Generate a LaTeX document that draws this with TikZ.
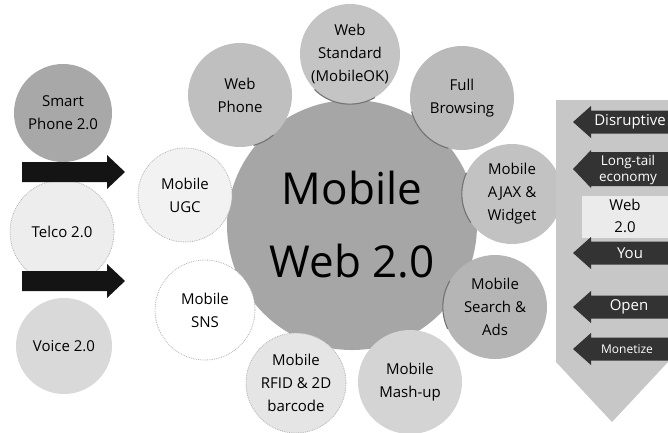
\documentclass[tikz,border=0pt]{standalone}
\usepackage{fontspec}
\setmainfont{Open Sans}
\begin{document}
\begin{tikzpicture}[x=1pt,y=-1pt,
  bubble/.style={circle, inner sep=0pt, minimum size=#1, align=center,
    font=\fontsize{15}{23}\selectfont},
  core/.style={circle, inner sep=0pt, minimum size=250pt, align=center,
    fill=black!35, font=\fontsize{44}{73}\selectfont},
  faint/.style={draw=black!30, densely dotted, line width=0.8pt},
  rim/.style={draw=black!55, line width=1.1pt},
  fatdark/.style={fill=black!92},
  tagdark/.style={fill=black!80},
  taglabel/.style={text=white, inner sep=0pt, font=\fontsize{15}{17}\selectfont},
  smalltag/.style={text=white, inner sep=0pt, font=\fontsize{13.5}{15}\selectfont},
  plainlabel/.style={inner sep=0pt, font=\fontsize{15}{22}\selectfont, align=center}]
\useasboundingbox (0,0) rectangle (668,432);
\fill[white] (0,0) rectangle (668,432);

% left column
\node[bubble=98pt, fill=black!34] (smart) at (63,113) {Smart\\Phone 2.0};
\node[bubble=104pt, fill=black!7, faint] (telco) at (62,232) {Telco 2.0};
\node[bubble=96pt, fill=black!15] (voice) at (64,346) {Voice 2.0};
\fill[fatdark] (22,162) -- (107,162) -- (107,155) -- (125,172) -- (107,189)
  -- (107,182) -- (22,182) -- cycle;
\fill[fatdark] (22,271) -- (107,271) -- (107,264) -- (125,281) -- (107,298)
  -- (107,291) -- (22,291) -- cycle;

% central hub
\node[core] (hub) at (352,225) {Mobile\\Web 2.0};

% ring of topics
\node[bubble=104pt, fill=black!25] (phone) at (240,95) {Web\\Phone};
\node[bubble=100pt, fill=black!23] (std) at (350,54) {Web\\Standard\\(MobileOK)};
\node[bubble=104pt, fill=black!27] (full) at (462,98) {Full\\Browsing};
\node[bubble=100pt, fill=black!24] (ajax) at (512,194) {Mobile\\AJAX \&\\Widget};
\node[bubble=104pt, fill=black!29] (search) at (495,307) {Mobile\\Search \&\\Ads};
\node[bubble=104pt, fill=black!17] (mash) at (410,382) {Mobile\\Mash-up};
\node[bubble=100pt, fill=black!10, faint] (rfid) at (296,383) {Mobile\\RFID \& 2D\\barcode};
\node[bubble=100pt, fill=white, faint] (sns) at (205,310) {Mobile\\SNS};
\node[bubble=94pt, fill=black!5, faint] (ugc) at (185,195) {Mobile\\UGC};

% darker rims where the bubbles overlap the hub
\draw[rim] (std.225) arc[start angle=225, end angle=300, radius=50pt];
\draw[rim] (full.195) arc[start angle=195, end angle=255, radius=52pt];
\draw[rim] (ajax.155) arc[start angle=155, end angle=215, radius=50pt];
\draw[rim] (search.150) arc[start angle=150, end angle=205, radius=52pt];
\draw[rim] (phone.285) arc[start angle=285, end angle=310, radius=52pt];

% right column: backdrop and tags
\fill[black!22] (556,100) -- (668,100) -- (668,362) -- (612,422) -- (556,362) -- cycle;
\fill[black!8] (582,196) rectangle (668,238);
\fill[tagdark] (670,110.5) -- (591,110.5) -- (591,106) -- (573,122) -- (591,138)
  -- (591,133.5) -- (670,133.5) -- cycle;
\fill[tagdark] (670,152) -- (591,152) -- (591,150) -- (573,169) -- (591,188)
  -- (591,186) -- (670,186) -- cycle;
\fill[tagdark] (670,241.5) -- (591,241.5) -- (591,237) -- (573,253) -- (591,269)
  -- (591,264.5) -- (670,264.5) -- cycle;
\fill[tagdark] (670,295.5) -- (591,295.5) -- (591,291) -- (573,307) -- (591,323)
  -- (591,318.5) -- (670,318.5) -- cycle;
\fill[tagdark] (670,337.5) -- (591,337.5) -- (591,333) -- (573,349) -- (591,365)
  -- (591,360.5) -- (670,360.5) -- cycle;

\node[taglabel] (disr) at (630,122) {Disruptive};
\node[smalltag] (long) at (628,162) {Long-tail};
\node[smalltag] (econ) at (628,179) {economy};
\node[plainlabel] (web) at (625,216) {Web\\2.0};
\node[taglabel] (you) at (630,253) {You};
\node[taglabel] (open) at (629,307) {Open};
\node[smalltag, font=\fontsize{12}{14}\selectfont] (money) at (627,349) {Monetize};
\end{tikzpicture}
\end{document}
